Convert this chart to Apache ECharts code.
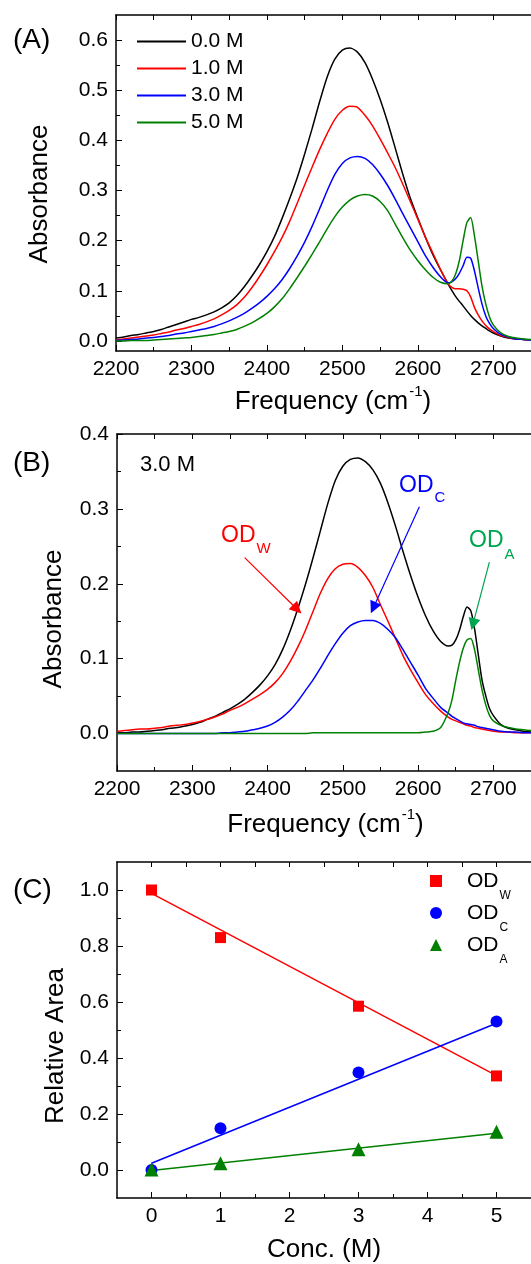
<!DOCTYPE html>
<html>
<head>
<meta charset="utf-8">
<title>OD stretch spectra</title>
<script src="https://cdn.jsdelivr.net/npm/echarts@6/dist/echarts.min.js"></script>
<style>
html, body { margin: 0; padding: 0; background: #fff; }
#chart { width: 531px; height: 1264px; }
</style>
</head>
<body>
<div id="chart"></div>
<script>
// frequency grid (cm-1) shared by panels (A) and (B)
var freq = [2200, 2210, 2220, 2230, 2240, 2250, 2260, 2270, 2280, 2290,
  2300, 2310, 2320, 2330, 2340, 2350, 2360, 2370, 2380, 2390,
  2400, 2410, 2420, 2430, 2440, 2450, 2460, 2470, 2480, 2490,
  2500, 2510, 2520, 2530, 2540, 2550, 2560, 2570, 2580, 2590,
  2600, 2610, 2620, 2630,
  2640, 2645, 2650, 2655, 2660, 2665, 2670, 2675, 2680, 2685, 2690, 2695, 2700,
  2710, 2720, 2730, 2740, 2750];

// ---- panel (A): spectra at four concentrations ----
var abs00 = [0.006, 0.008, 0.011, 0.013, 0.016, 0.019, 0.023, 0.028, 0.033, 0.038,
  0.043, 0.047, 0.052, 0.058, 0.066, 0.076, 0.090, 0.108, 0.129, 0.152,
  0.178, 0.208, 0.244, 0.283, 0.325, 0.373, 0.424, 0.478, 0.527, 0.562,
  0.580, 0.584, 0.576, 0.555, 0.522, 0.482, 0.436, 0.385, 0.333, 0.285,
  0.245, 0.207, 0.172, 0.142,
  0.114, 0.101, 0.089, 0.079, 0.070, 0.060, 0.051, 0.043, 0.036, 0.030, 0.025, 0.020, 0.016,
  0.010, 0.006, 0.004, 0.003, 0.002];
var abs10 = [0.002, 0.004, 0.006, 0.008, 0.010, 0.012, 0.015, 0.018, 0.022, 0.025,
  0.029, 0.033, 0.038, 0.044, 0.052, 0.061, 0.072, 0.087, 0.106, 0.128,
  0.152, 0.178, 0.206, 0.238, 0.274, 0.311, 0.347, 0.382, 0.414, 0.442,
  0.460, 0.468, 0.466, 0.450, 0.429, 0.403, 0.375, 0.346, 0.313, 0.278,
  0.243, 0.207, 0.175, 0.143,
  0.114, 0.107, 0.104, 0.104, 0.103, 0.100, 0.088, 0.067, 0.052, 0.040, 0.031, 0.024, 0.019,
  0.011, 0.007, 0.004, 0.003, 0.002];
var abs30 = [0.001, 0.002, 0.003, 0.004, 0.006, 0.007, 0.009, 0.011, 0.014, 0.016,
  0.019, 0.022, 0.025, 0.029, 0.034, 0.040, 0.047, 0.055, 0.065, 0.076,
  0.089, 0.104, 0.122, 0.144, 0.169, 0.197, 0.229, 0.264, 0.300, 0.332,
  0.354, 0.365, 0.368, 0.364, 0.352, 0.333, 0.310, 0.283, 0.254, 0.226,
  0.198, 0.170, 0.147, 0.128,
  0.116, 0.118, 0.124, 0.135, 0.150, 0.167, 0.165, 0.140, 0.106, 0.074, 0.050, 0.035, 0.025,
  0.013, 0.008, 0.004, 0.003, 0.002];
var abs50 = [0.000, 0.000, 0.001, 0.001, 0.001, 0.002, 0.003, 0.004, 0.005, 0.006,
  0.007, 0.009, 0.011, 0.013, 0.016, 0.019, 0.023, 0.029, 0.036, 0.045,
  0.055, 0.068, 0.084, 0.104, 0.126, 0.149, 0.173, 0.198, 0.224, 0.248,
  0.267, 0.281, 0.289, 0.292, 0.289, 0.278, 0.260, 0.233, 0.206, 0.181,
  0.160, 0.142, 0.127, 0.117,
  0.114, 0.119, 0.133, 0.160, 0.200, 0.236, 0.246, 0.210, 0.160, 0.110, 0.074, 0.048, 0.032,
  0.016, 0.009, 0.006, 0.004, 0.003];
var namesA = ['0.0 M', '1.0 M', '3.0 M', '5.0 M'];

// ---- panel (B): 3.0 M spectrum and its three components ----
var absB = [0.001, 0.001, 0.002, 0.002, 0.003, 0.004, 0.005, 0.007, 0.008, 0.010,
  0.012, 0.015, 0.019, 0.023, 0.028, 0.033, 0.039, 0.046, 0.055, 0.065,
  0.077, 0.092, 0.112, 0.137, 0.166, 0.198, 0.233, 0.270, 0.307, 0.338,
  0.357, 0.366, 0.368, 0.363, 0.352, 0.334, 0.308, 0.277, 0.243, 0.211,
  0.182, 0.157, 0.137, 0.123,
  0.117, 0.118, 0.125, 0.138, 0.156, 0.169, 0.164, 0.140, 0.105, 0.071, 0.050, 0.033, 0.024,
  0.012, 0.007, 0.005, 0.003, 0.002];
var compW = [0.003, 0.004, 0.005, 0.006, 0.006, 0.007, 0.008, 0.010, 0.011, 0.012,
  0.014, 0.016, 0.019, 0.022, 0.026, 0.031, 0.035, 0.040, 0.046, 0.052,
  0.059, 0.068, 0.080, 0.096, 0.115, 0.137, 0.162, 0.187, 0.207, 0.220,
  0.226, 0.227, 0.222, 0.211, 0.195, 0.172, 0.150, 0.127, 0.104, 0.085,
  0.068, 0.052, 0.040, 0.030,
  0.022, 0.019, 0.017, 0.015, 0.013, 0.011, 0.010, 0.008, 0.007, 0.006, 0.005, 0.004, 0.003,
  0.002, 0.002, 0.001, 0.001, 0.001];
var compC = [0.000, 0.000, 0.000, 0.000, 0.000, 0.000, 0.000, 0.000, 0.000, 0.000,
  0.000, 0.000, 0.000, 0.000, 0.001, 0.001, 0.002, 0.003, 0.005, 0.007,
  0.010, 0.015, 0.022, 0.031, 0.043, 0.057, 0.071, 0.087, 0.104, 0.120,
  0.134, 0.144, 0.149, 0.151, 0.151, 0.147, 0.139, 0.128, 0.112, 0.095,
  0.078, 0.060, 0.047, 0.035,
  0.027, 0.023, 0.020, 0.017, 0.014, 0.013, 0.012, 0.011, 0.009, 0.008, 0.007, 0.006, 0.005,
  0.003, 0.002, 0.002, 0.001, 0.001];
var compA = [0.000, 0.000, 0.000, 0.000, 0.000, 0.000, 0.000, 0.000, 0.000, 0.000,
  0.000, 0.000, 0.000, 0.000, 0.000, 0.000, 0.000, 0.000, 0.000, 0.000,
  0.000, 0.000, 0.000, 0.000, 0.000, 0.000, 0.001, 0.001, 0.001, 0.001,
  0.001, 0.001, 0.001, 0.001, 0.001, 0.001, 0.001, 0.001, 0.001, 0.001,
  0.001, 0.002, 0.003, 0.008,
  0.028, 0.045, 0.071, 0.095, 0.114, 0.125, 0.127, 0.112, 0.085, 0.058, 0.038, 0.024, 0.017,
  0.011, 0.008, 0.006, 0.005, 0.004];
// arrows: [tail, head] in (frequency, absorbance)
var arrowW = [[2369.6, 0.235], [2439.3, 0.166]];
var arrowC = [[2601.7, 0.303], [2540.6, 0.168]];
var arrowA = [[2694.7, 0.229], [2672.9, 0.146]];

// ---- panel (C): relative areas ----
var conc = [0, 1, 3, 5];
var areaW = [1.000, 0.830, 0.585, 0.336];
var areaC = [0.000, 0.149, 0.348, 0.530];
var areaA = [0.002, 0.024, 0.074, 0.137];
var fitConc = [0, 5];
var fitW = [0.988, 0.337];
var fitC = [0.024, 0.524];
var fitA = [-0.002, 0.131];

// ---- tick labels ----
var freqTicks = [2200, 2300, 2400, 2500, 2600, 2700];
var absTicksA = [0.0, 0.1, 0.2, 0.3, 0.4, 0.5, 0.6];
var absTicksB = [0.0, 0.1, 0.2, 0.3, 0.4];
var concTicks = [0, 1, 2, 3, 4, 5];
var areaTicks = [0.0, 0.2, 0.4, 0.6, 0.8, 1.0];

var FONT = '"Liberation Sans", Arial, Helvetica, sans-serif';
var RED = '#ff0000', BLUE = '#0000ff', GREEN = '#008000', LABEL_GREEN = '#00a550';

function mids(t) {
  var r = [];
  for (var i = 0; i < t.length - 1; i++) r.push((t[i] + t[i + 1]) / 2);
  return r;
}
function pairs(xs, ys) {
  return xs.map(function (x, i) { return [x, ys[i]]; });
}

var nameRich = {
  m: { fontSize: 26, lineHeight: 35, verticalAlign: 'middle', color: '#000', fontFamily: FONT },
  sup: { fontSize: 15, lineHeight: 15, verticalAlign: 'top', padding: [0, 0, 20, 1], color: '#000', fontFamily: FONT }
};

function xMain(grid, min, max, ticks, name, gap, pad) {
  return {
    type: 'value', gridIndex: grid, position: 'bottom', min: min, max: max,
    axisLine: { onZero: false, lineStyle: { color: '#000', width: 1.5 } },
    axisTick: { inside: true, length: 6, customValues: ticks, lineStyle: { color: '#000', width: 1 } },
    axisLabel: { customValues: ticks, margin: 8, color: '#000', fontSize: 21, fontFamily: FONT,
      formatter: function (v) { return String(v); } },
    splitLine: { show: false },
    name: name, nameLocation: 'middle', nameGap: gap,
    nameTextStyle: { padding: [0, 0, 0, pad], rich: nameRich }
  };
}
function xMinor(grid, min, max, ticks) {
  return {
    type: 'value', gridIndex: grid, position: 'bottom', min: min, max: max,
    axisLine: { show: false, onZero: false },
    axisTick: { inside: true, length: 4, customValues: ticks, lineStyle: { color: '#000', width: 1 } },
    axisLabel: { show: false }, splitLine: { show: false }
  };
}
function xTop(grid, min, max, ticks) {
  return {
    type: 'value', gridIndex: grid, position: 'top', min: min, max: max,
    axisLine: { onZero: false, lineStyle: { color: '#000', width: 1.5 } },
    axisTick: { inside: true, length: 5, customValues: ticks, lineStyle: { color: '#000', width: 1 } },
    axisLabel: { show: false }, splitLine: { show: false }
  };
}
function yMain(grid, min, max, ticks, name, gap, shift) {
  return {
    type: 'value', gridIndex: grid, position: 'left', min: min, max: max,
    axisLine: { onZero: false, lineStyle: { color: '#000', width: 1.5 } },
    axisTick: { inside: true, length: 6, customValues: ticks, lineStyle: { color: '#000', width: 1 } },
    axisLabel: { customValues: ticks, margin: 8, color: '#000', fontSize: 21, fontFamily: FONT,
      formatter: function (v) { return v.toFixed(1); } },
    splitLine: { show: false },
    name: name, nameLocation: 'middle', nameRotate: 90, nameGap: gap,
    nameTextStyle: { fontSize: 26, color: '#000', fontFamily: FONT, padding: [0, shift, 0, 0] }
  };
}
function yMinor(grid, min, max, ticks) {
  return {
    type: 'value', gridIndex: grid, position: 'left', min: min, max: max,
    axisLine: { show: false, onZero: false },
    axisTick: { inside: true, length: 4, customValues: ticks, lineStyle: { color: '#000', width: 1 } },
    axisLabel: { show: false }, splitLine: { show: false }
  };
}

function spectrum(name, xi, yi, ys, color) {
  return {
    name: name, type: 'line', xAxisIndex: xi, yAxisIndex: yi,
    data: pairs(freq, ys), smooth: 0.25, symbol: 'none', silent: true,
    lineStyle: { color: color, width: 1.5 }, itemStyle: { color: color }
  };
}
function arrow(pts, color) {
  return {
    silent: true, symbol: ['none', 'triangle'], symbolSize: 12,
    label: { show: false },
    lineStyle: { color: color, width: 1.2, type: 'solid' },
    itemStyle: { color: color },
    emphasis: { disabled: true },
    data: [[{ coord: pts[0] }, { coord: pts[1] }]]
  };
}
function subText(x, y, main, sub, color, size, subSize, drop) {
  return {
    type: 'text', x: x, y: y,
    style: {
      text: '{m|' + main + '}{s|' + sub + '}', verticalAlign: 'middle', align: 'left',
      rich: {
        m: { fontSize: size, lineHeight: size + 2, verticalAlign: 'middle', fill: color, fontFamily: FONT },
        s: { fontSize: subSize, lineHeight: subSize, verticalAlign: 'top', padding: [drop, 0, 0, 1], fill: color, fontFamily: FONT }
      }
    }
  };
}

var freqMinor = mids(freqTicks);
var concMinor = mids(concTicks);

var option = {
  animation: false,
  backgroundColor: '#fff',
  textStyle: { fontFamily: FONT },
  grid: [
    { left: 116, top: 15, width: 417, height: 336 },
    { left: 117, top: 434, width: 417, height: 337 },
    { left: 117, top: 862, width: 418, height: 336 }
  ],
  xAxis: [
    xMain(0, 2200, 2750, freqTicks, '{m|Frequency (cm}{sup|-1}{m|)}', 33, 19),
    xMinor(0, 2200, 2750, freqMinor),
    xTop(0, 2200, 2750, freqTicks.concat(freqMinor)),
    xMain(1, 2200, 2750, freqTicks, '{m|Frequency (cm}{sup|-1}{m|)}', 36, 3),
    xMinor(1, 2200, 2750, freqMinor),
    xTop(1, 2200, 2750, freqTicks.concat(freqMinor)),
    xMain(2, -0.5, 5.5, concTicks, '{m|Conc. (M)}', 34, 0),
    xMinor(2, -0.5, 5.5, concMinor),
    xTop(2, -0.5, 5.5, concTicks.concat(concMinor))
  ],
  yAxis: [
    yMain(0, -0.02, 0.65, absTicksA, 'Absorbance', 63, 22),
    yMinor(0, -0.02, 0.65, mids(absTicksA)),
    yMain(1, -0.05, 0.4, absTicksB, 'Absorbance', 50, 33),
    yMinor(1, -0.05, 0.4, mids(absTicksB)),
    yMain(2, -0.1, 1.1, areaTicks, 'Relative Area', 46, 32),
    yMinor(2, -0.1, 1.1, mids(areaTicks))
  ],
  legend: [
    {
      data: namesA.map(function (n) { return { name: n, icon: 'rect' }; }),
      orient: 'vertical', left: 137, top: 31, padding: 0,
      itemWidth: 49, itemHeight: 2, itemGap: 6, selectedMode: false,
      textStyle: { fontSize: 21, lineHeight: 21, color: '#000', fontFamily: FONT }
    },
    {
      data: ['ODW', 'ODC', 'ODA'], orient: 'vertical', left: 430, top: 870, padding: 0,
      itemWidth: 12, itemHeight: 12, itemGap: 0, selectedMode: false,
      formatter: function (n) { return '{m|OD}{s|' + n.slice(2) + '}'; },
      textStyle: {
        color: '#000', fontFamily: FONT,
        rich: {
          m: { fontSize: 21, lineHeight: 22, verticalAlign: 'middle', padding: [0, 0, 0, 20], color: '#000', fontFamily: FONT },
          s: { fontSize: 12, lineHeight: 12, verticalAlign: 'top', padding: [20, 0, 0, 1], color: '#000', fontFamily: FONT }
        }
      }
    }
  ],
  graphic: [
    { type: 'text', x: 13, y: 40, style: { text: '(A)', fontSize: 28, fontFamily: FONT, fill: '#000', verticalAlign: 'middle' } },
    { type: 'text', x: 13, y: 463, style: { text: '(B)', fontSize: 28, fontFamily: FONT, fill: '#000', verticalAlign: 'middle' } },
    { type: 'text', x: 13, y: 890, style: { text: '(C)', fontSize: 28, fontFamily: FONT, fill: '#000', verticalAlign: 'middle' } },
    { type: 'text', x: 140, y: 465, style: { text: '3.0 M', fontSize: 22, fontFamily: FONT, fill: '#000', verticalAlign: 'middle' } },
    subText(221, 536, 'OD', 'W', RED, 23, 15, 18),
    subText(399, 486, 'OD', 'C', BLUE, 23, 15, 17),
    subText(469, 541, 'OD', 'A', LABEL_GREEN, 23, 15, 19)
  ],
  series: [
    spectrum('0.0 M', 0, 0, abs00, '#000'),
    spectrum('1.0 M', 0, 0, abs10, RED),
    spectrum('3.0 M', 0, 0, abs30, BLUE),
    spectrum('5.0 M', 0, 0, abs50, GREEN),

    spectrum('3.0 M total', 3, 2, absB, '#000'),
    Object.assign(spectrum('W component', 3, 2, compW, RED), { markLine: arrow(arrowW, RED) }),
    Object.assign(spectrum('C component', 3, 2, compC, BLUE), { markLine: arrow(arrowC, BLUE) }),
    Object.assign(spectrum('A component', 3, 2, compA, GREEN), { markLine: arrow(arrowA, LABEL_GREEN) }),

    { name: 'fit W', type: 'line', xAxisIndex: 6, yAxisIndex: 4, data: pairs(fitConc, fitW), symbol: 'none', silent: true,
      lineStyle: { color: RED, width: 1.5 } },
    { name: 'fit C', type: 'line', xAxisIndex: 6, yAxisIndex: 4, data: pairs(fitConc, fitC), symbol: 'none', silent: true,
      lineStyle: { color: BLUE, width: 1.5 } },
    { name: 'fit A', type: 'line', xAxisIndex: 6, yAxisIndex: 4, data: pairs(fitConc, fitA), symbol: 'none', silent: true,
      lineStyle: { color: GREEN, width: 1.5 } },
    { name: 'ODW', type: 'scatter', xAxisIndex: 6, yAxisIndex: 4, data: pairs(conc, areaW), symbol: 'rect', symbolSize: 11,
      itemStyle: { color: RED, opacity: 1 }, silent: true, z: 5 },
    { name: 'ODC', type: 'scatter', xAxisIndex: 6, yAxisIndex: 4, data: pairs(conc, areaC), symbol: 'circle', symbolSize: 12,
      itemStyle: { color: BLUE, opacity: 1 }, silent: true, z: 5 },
    { name: 'ODA', type: 'scatter', xAxisIndex: 6, yAxisIndex: 4, data: pairs(conc, areaA), symbol: 'triangle', symbolSize: 14,
      itemStyle: { color: GREEN, opacity: 1 }, silent: true, z: 5 }
  ]
};

var chart = echarts.init(document.getElementById('chart'), null, { renderer: 'canvas' });
chart.setOption(option);
</script>
</body>
</html>
